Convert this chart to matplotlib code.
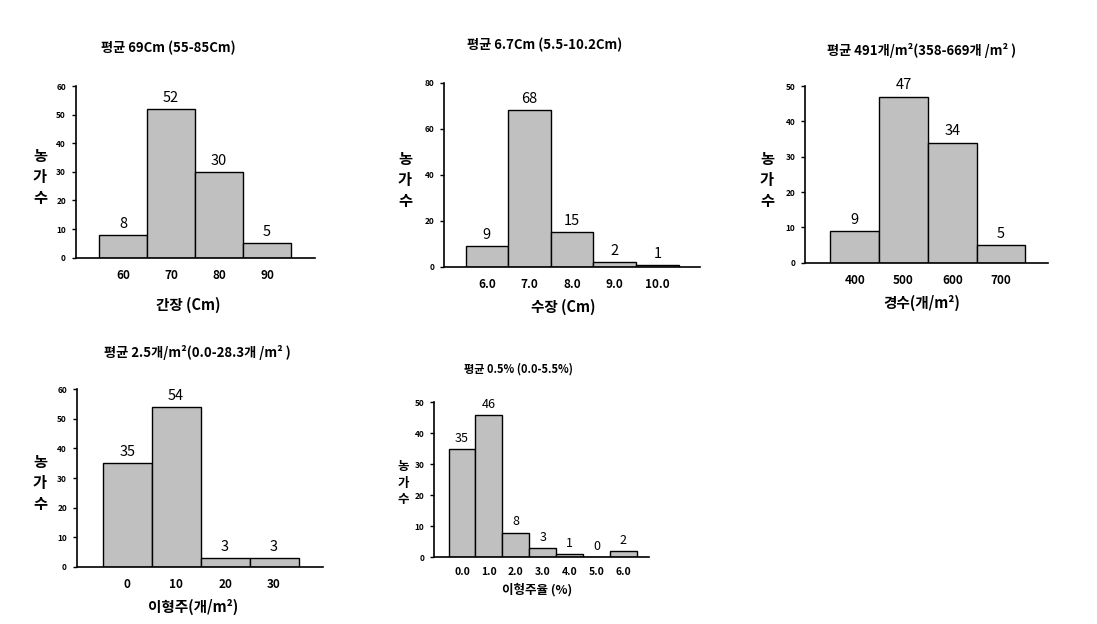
import matplotlib
matplotlib.use("Agg")
import matplotlib.pyplot as plt

plt.rcParams['font.family'] = ['Noto Sans CJK KR', 'DejaVu Sans']

W, H = 1097, 624

# --- DATA ---
len_bins = [60, 70, 80, 90]
len_counts = [8, 52, 30, 5]

ear_bins = [6.0, 7.0, 8.0, 9.0, 10.0]
ear_counts = [9, 68, 15, 2, 1]

stem_bins = [400, 500, 600, 700]
stem_counts = [9, 47, 34, 5]

off_bins = [0, 10, 20, 30]
off_counts = [35, 54, 3, 3]

rate_bins = [0.0, 1.0, 2.0, 3.0, 4.0, 5.0, 6.0]
rate_counts = [35, 46, 8, 3, 1, 0, 2]

panels = [
    dict(bins=len_bins, counts=len_counts, width=10,
         labels=['60', '70', '80', '90'], ymax=60, ystep=10,
         title='평균 69Cm (55-85Cm)', xlabel='간장 (Cm)',
         box=(75.7, 86, 315, 257.7), xlim=(50.1, 100),
         tpos=(168, 48), xlpos=(188, 305), ylpos=(40, 177)),
    dict(bins=ear_bins, counts=ear_counts, width=1,
         labels=['6.0', '7.0', '8.0', '9.0', '10.0'], ymax=80, ystep=20,
         title='평균 6.7Cm (5.5-10.2Cm)', xlabel='수장 (Cm)',
         box=(444.3, 82.7, 700, 267), xlim=(5.0, 11.0),
         tpos=(545, 45), xlpos=(563, 307), ylpos=(405, 180)),
    dict(bins=stem_bins, counts=stem_counts, width=100,
         labels=['400', '500', '600', '700'], ymax=50, ystep=10,
         title='평균 491개/m²(358-669개 /m² )', xlabel='경수(개/m²)',
         box=(805, 86, 1047.7, 262.7), xlim=(298, 795.6),
         tpos=(922, 50), xlpos=(922, 303), ylpos=(767, 180)),
    dict(bins=off_bins, counts=off_counts, width=10,
         labels=['0', '10', '20', '30'], ymax=60, ystep=10,
         title='평균 2.5개/m²(0.0-28.3개 /m² )', xlabel='이형주(개/m²)',
         box=(76.7, 389.3, 323, 566.7), xlim=(-10.3, 40),
         tpos=(197, 353), xlpos=(193, 607), ylpos=(40, 483)),
    dict(bins=rate_bins, counts=rate_counts, width=1,
         labels=['0.0', '1.0', '2.0', '3.0', '4.0', '5.0', '6.0'], ymax=50, ystep=10,
         title='평균 0.5% (0.0-5.5%)', xlabel='이형주율 (%)',
         box=(434.3, 402.3, 649.3, 557.3), xlim=(-1.03, 6.96),
         tpos=(518, 369), xlpos=(537, 590), ylpos=(403, 483)),
]


def fx(px):
    return px / W


def fy(py):
    return 1 - py / H


fig = plt.figure(figsize=(W / 100, H / 100), dpi=100)

for i, p in enumerate(panels):
    x0, y0, x1, y1 = p['box']
    ax = fig.add_axes([fx(x0), fy(y1), (x1 - x0) / W, (y1 - y0) / H])
    small = (i == 4)
    ax.bar(p['bins'], p['counts'], width=p['width'], color='#c0c0c0',
           edgecolor='black', linewidth=1.0)
    ax.set_xlim(*p['xlim'])
    ax.set_ylim(0, p['ymax'])
    ax.set_yticks(range(0, p['ymax'] + 1, p['ystep']))
    ax.set_xticks(p['bins'])
    ax.set_xticklabels(p['labels'], fontsize=7.5 if small else 8.5, weight='bold')
    for lab in ax.get_yticklabels():
        lab.set_fontsize(6)
        lab.set_fontweight('bold')
    ax.tick_params(axis='x', length=0, pad=8 if not small else 7)
    ax.tick_params(axis='y', length=3, width=1, direction='out', pad=4)
    for s in ['top', 'right']:
        ax.spines[s].set_visible(False)
    for s in ['left', 'bottom']:
        ax.spines[s].set_linewidth(1.2)
    for b, c in zip(p['bins'], p['counts']):
        ax.annotate(str(c), (b, c), xytext=(0, 3), textcoords='offset points',
                    ha='center', va='bottom', fontsize=9 if small else 10.5,
                    weight='medium')

    fig.text(fx(p['tpos'][0]), fy(p['tpos'][1]), p['title'], ha='center', va='center',
             fontsize=8 if small else 9.5, weight='bold')
    fig.text(fx(p['xlpos'][0]), fy(p['xlpos'][1]), p['xlabel'], ha='center', va='center',
             fontsize=9 if small else 10.5, weight='bold')
    fig.text(fx(p['ylpos'][0]), fy(p['ylpos'][1]), '농\n가\n수', ha='center', va='center',
             fontsize=9 if small else 11, weight='bold', linespacing=1.35)

fig.savefig('out.png', dpi=100)
